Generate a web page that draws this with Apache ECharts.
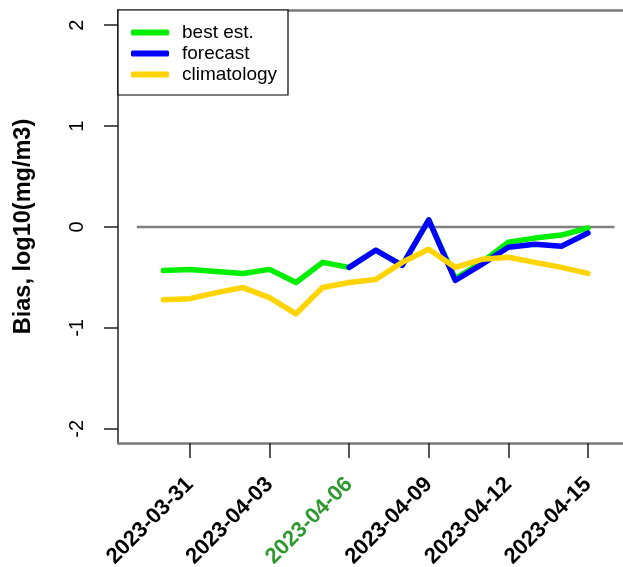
<!DOCTYPE html>
<html><head><meta charset="utf-8">
<script src="https://cdn.jsdelivr.net/npm/echarts@6/dist/echarts.min.js"></script>
<style>html,body{margin:0;padding:0;background:#fff}#c{width:623px;height:567px}</style>
</head><body><div id="c"></div>
<script>
var dates = ['2023-03-30','2023-03-31','2023-04-01','2023-04-02','2023-04-03','2023-04-04','2023-04-05','2023-04-06','2023-04-07','2023-04-08','2023-04-09','2023-04-10','2023-04-11','2023-04-12','2023-04-13','2023-04-14','2023-04-15'];
var bestEst = [-0.43,-0.42,-0.44,-0.46,-0.42,-0.55,-0.35,-0.40,-0.23,-0.38,0.07,-0.51,-0.35,-0.15,-0.11,-0.08,-0.01];
var forecast = [null,null,null,null,null,null,null,-0.40,-0.23,-0.38,0.07,-0.53,-0.37,-0.20,-0.17,-0.19,-0.06];
var climatology = [-0.72,-0.71,-0.65,-0.60,-0.70,-0.86,-0.60,-0.55,-0.52,-0.35,-0.22,-0.40,-0.32,-0.30,-0.35,-0.40,-0.46];
var tickDates = ['2023-03-31','2023-04-03','2023-04-06','2023-04-09','2023-04-12','2023-04-15'];
var highlightDate = '2023-04-06';
var yTicks = [-2,-1,0,1,2];
var refLineDates = ['2023-03-29','2023-04-16'];
var refValue = 0;
var seriesNames = ['best est.','forecast','climatology'];
var xRange = ['2023-03-28','2023-04-16'];

var DAY = 86400000;
var base = Date.parse(dates[0]);
function di(d){ return (Date.parse(d) - base) / DAY; }
function pairs(vals){ return dates.map(function(d,i){ return [di(d), vals[i]]; }); }
var tickVals = tickDates.map(di);

var chart = echarts.init(document.getElementById('c'));
var font = '"Liberation Sans", Arial, sans-serif';
var lineCommon = {type:'line', showSymbol:false, symbol:'none', connectNulls:false,
  lineStyle:{width:5.5, cap:'round', join:'round'}};
chart.setOption({
  animation:false,
  grid:{left:118, right:0, top:10, bottom:124, containLabel:false, outerBoundsMode:'none'},
  xAxis:[{
    type:'value', min:di(xRange[0]) + 0.29, max:di(xRange[1]) + 0.32,
    splitLine:{show:false},
    axisLine:{show:true, onZero:false, lineStyle:{color:'#7a7a7a', width:2.5}},
    axisTick:{show:true, customValues:tickVals, length:15, lineStyle:{color:'#222', width:1.5}},
    axisLabel:{show:true, customValues:tickVals, rotate:45, margin:38,
      fontFamily:font, fontWeight:'bold', fontSize:22, color:'#000',
      formatter:function(v){
        var idx = tickVals.indexOf(v); var s = tickDates[idx];
        return s === highlightDate ? '{g|'+s+'}' : s;
      },
      rich:{g:{color:'#2E9A2E', fontFamily:font, fontWeight:'bold', fontSize:22}}
    }
  },{
    type:'value', position:'top', min:di(xRange[0]) + 0.29, max:di(xRange[1]) + 0.32,
    splitLine:{show:false}, axisTick:{show:false}, axisLabel:{show:false},
    axisLine:{show:true, onZero:false, lineStyle:{color:'#7a7a7a', width:2.5}}
  }],
  yAxis:{
    type:'value', min:-2.14, max:2.15,
    name:'Bias, log10(mg/m3)', nameLocation:'middle', nameGap:82,
    nameTextStyle:{fontFamily:font, fontWeight:'bold', fontSize:23.5, color:'#000'},
    splitLine:{show:false},
    axisLine:{show:true, onZero:false, lineStyle:{color:'#222', width:1.5}},
    axisTick:{show:true, customValues:yTicks, length:14, lineStyle:{color:'#222', width:1.5}},
    axisLabel:{show:true, customValues:yTicks, rotate:90, margin:31,
      fontFamily:font, fontSize:20, color:'#000'}
  },
  legend:{
    show:true, orient:'vertical', left:131, top:22, padding:0, itemGap:0, z:30,
    itemWidth:38, itemHeight:6, icon:'roundRect',
    data:seriesNames,
    textStyle:{fontFamily:font, fontSize:19, color:'#000', lineHeight:21, padding:[0,0,0,8]}
  },
  graphic:[{type:'rect', z:25, shape:{x:118, y:10, width:170, height:85},
    style:{fill:'#fff', stroke:'#000', lineWidth:1.2}}],
  series:[
    {type:'line', name:'zero', data:refLineDates.map(function(d){return [di(d), refValue];}),
      showSymbol:false, symbol:'none', lineStyle:{color:'#808080', width:2.5}, z:1, silent:true},
    Object.assign({}, lineCommon, {name:seriesNames[0], data:pairs(bestEst), color:'#00EE00', z:2}),
    Object.assign({}, lineCommon, {name:seriesNames[1], data:pairs(forecast), color:'#0000FF', z:3}),
    Object.assign({}, lineCommon, {name:seriesNames[2], data:pairs(climatology), color:'#FFD400', z:4})
  ]
});
</script></body></html>
